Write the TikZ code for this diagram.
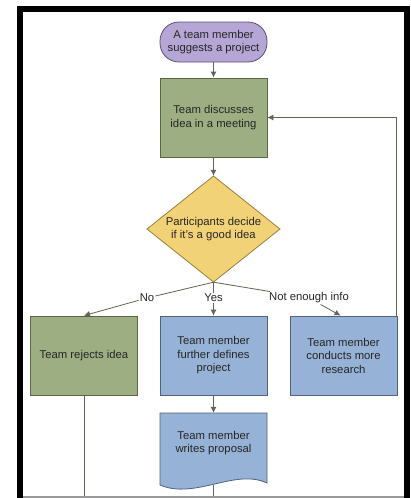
\documentclass[tikz,border=0pt]{standalone}
\usepackage{fontspec}
\setmainfont{Liberation Sans}
\usetikzlibrary{arrows.meta}
\definecolor{purplef}{RGB}{181,166,214}
\definecolor{purpled}{RGB}{92,78,120}
\definecolor{greenf}{RGB}{156,174,130}
\definecolor{greend}{RGB}{88,102,66}
\definecolor{bluef}{RGB}{150,178,214}
\definecolor{blued}{RGB}{82,98,122}
\definecolor{yellowf}{RGB}{242,210,118}
\definecolor{yellowd}{RGB}{150,128,62}
\definecolor{linec}{RGB}{98,100,82}
\begin{document}
\begin{tikzpicture}[x=1pt,y=-1pt,
  every node/.style={font=\fontsize{11.3}{13.5}\selectfont, text=black!85, align=center},
  proc/.style={draw=#1d, fill=#1f, line width=0.8pt, minimum width=107pt, minimum height=79pt, inner sep=0pt},
  term/.style={draw=purpled, fill=purplef, line width=0.8pt, rounded corners=19pt, minimum width=107pt, minimum height=40pt, inner sep=0pt},
  decshape/.style={draw=yellowd, fill=yellowf, line width=0.8pt},
  conn/.style={draw=linec, line width=0.8pt},
  arr/.style={conn, -{Latex[length=6pt,width=6pt]}},
  lab/.style={fill=white, inner sep=1pt}]
\useasboundingbox (0,0) rectangle (410,498);
\fill[white] (0,0) rectangle (410,498);

\node[term] (t) at (213.5,42) {A team member\\suggests a project};
\node[proc=green] (d1) at (213.5,117.5) {Team discusses\\idea in a meeting};
% decision diamond
\filldraw[decshape] (213.5,176) -- (280,229) -- (213.5,282) -- (147,229) -- cycle;
\node[minimum width=133pt, minimum height=106pt, inner sep=0pt] (dec) at (213.5,229) {Participants decide\\if it's a good idea};
\node[proc=green] (r1) at (84,355.5) {Team rejects idea};
\node[proc=blue] (r2) at (213.5,355.5) {Team member\\further defines\\project};
\node[proc=blue] (r3) at (343.5,355.5) {Team member\\conducts more\\research};

% document shape
\filldraw[draw=blued, fill=bluef, line width=0.8pt] (160,413) -- (267,413) -- (267,483)
  .. controls (235,468) and (195,500) .. (160,485) -- cycle;
\node[minimum width=107pt, minimum height=60pt, inner sep=0pt] (p) at (213.5,443) {Team member\\writes proposal};
\coordinate (pb) at (213.5,485);

\node[lab] (lno) at (147,298) {No};
\node[lab] (lyes) at (213.5,298) {Yes};
\node[lab] (lnot) at (309,298) {Not enough info};

\draw[arr] (t) -- (d1);
\draw[arr] (d1) -- (dec);
\draw[conn] (dec.south) -- (lno);
\draw[arr] (lno) -- (r1.north);
\draw[conn] (dec.south) -- (lyes);
\draw[arr] (lyes) -- (r2.north);
\draw[conn] (dec.south) -- (lnot);
\draw[arr] (lnot) -- ([xshift=-3pt]r3.north);
\draw[arr] (r2) -- (p);
\coordinate (fb) at ([xshift=-1.5pt]r3.north east);
\draw[arr] (fb) |- (d1);
\coordinate (b1) at (84,497);
\coordinate (b2) at (213.5,497);
\draw[conn] (r1.south) -- (b1);
\draw[conn] (pb) -- (b2);

% frame
\draw[black!40, line width=1.2pt] (23,497) -- (404,497);
\draw[black, line width=6pt, line join=miter] (20,498) -- (20,9) -- (407,9) -- (407,498);
\end{tikzpicture}
\end{document}
